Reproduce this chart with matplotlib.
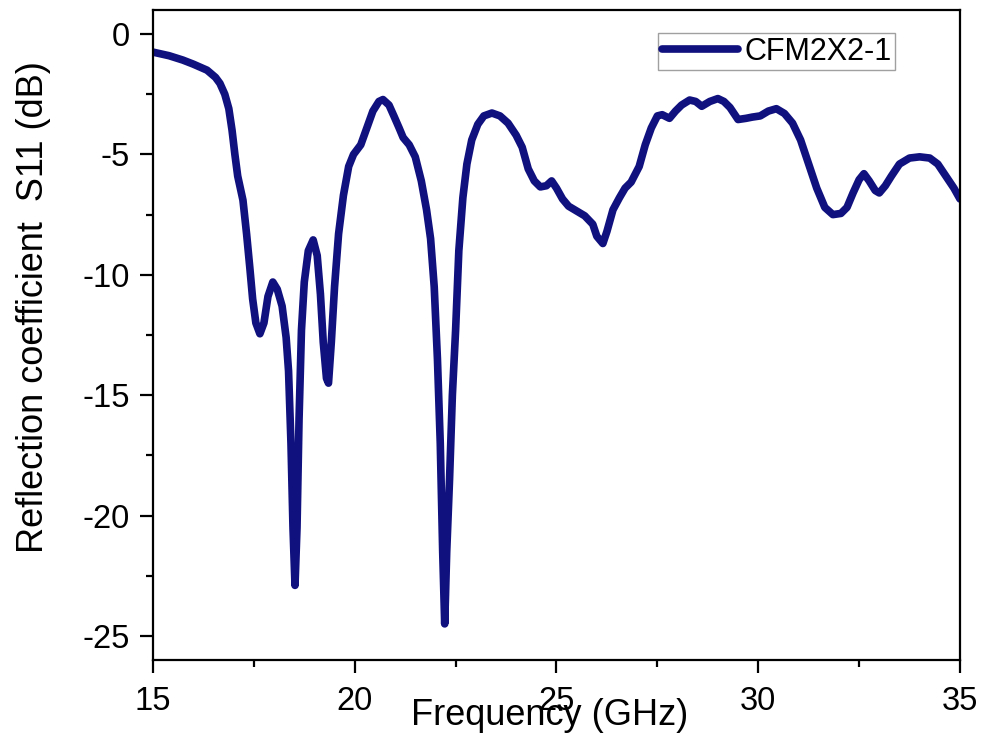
import numpy as np
import matplotlib
matplotlib.use("Agg")
import matplotlib.pyplot as plt
from matplotlib.ticker import MultipleLocator

plt.rcParams['font.family'] = ['Liberation Sans', 'DejaVu Sans']
plt.rcParams['axes.unicode_minus'] = False

# S11 curve
freq = [15.0, 15.4, 15.74, 16.0, 16.34, 16.55, 16.66, 16.78, 16.88, 16.96,
        17.03, 17.1, 17.23, 17.32, 17.4, 17.47, 17.55, 17.65, 17.75, 17.85,
        17.97, 18.08, 18.2, 18.3, 18.36, 18.42, 18.47, 18.52, 18.57, 18.62,
        18.68, 18.75, 18.85, 18.97, 19.07, 19.15, 19.22, 19.3, 19.35, 19.42,
        19.5, 19.6, 19.72, 19.85, 19.97, 20.15, 20.3, 20.45, 20.6, 20.7,
        20.85, 20.97, 21.1, 21.2, 21.35, 21.5, 21.65, 21.78, 21.88, 21.97,
        22.05, 22.12, 22.18, 22.23, 22.28, 22.35, 22.42, 22.5, 22.58, 22.68,
        22.78, 22.9, 23.05, 23.2, 23.4, 23.6, 23.8, 24.0, 24.15, 24.3,
        24.45, 24.6, 24.75, 24.88, 25.0, 25.15, 25.3, 25.5, 25.7, 25.9,
        26.0, 26.15, 26.25, 26.4, 26.56, 26.7, 26.85, 27.05, 27.2, 27.35,
        27.5, 27.62, 27.8, 27.95, 28.1, 28.3, 28.45, 28.6, 28.8, 29.0,
        29.15, 29.3, 29.5, 29.7, 29.85, 30.05, 30.25, 30.45, 30.65, 30.85,
        31.05, 31.25, 31.45, 31.65, 31.85, 32.05, 32.2, 32.35, 32.5, 32.62,
        32.75, 32.9, 33.0, 33.15, 33.3, 33.5, 33.75, 34.0, 34.25, 34.45,
        34.65, 34.85, 35.0]
s11 = [-0.75, -0.9, -1.08, -1.25, -1.5, -1.8, -2.05, -2.5, -3.1, -4.0,
       -5.0, -5.9, -6.9, -8.3, -9.7, -11.0, -12.0, -12.45, -12.0, -10.9,
       -10.3, -10.6, -11.3, -12.6, -14.0, -17.0, -20.5, -22.9, -20.5, -16.0,
       -12.3, -10.3, -9.0, -8.55, -9.2, -10.8, -12.8, -14.3, -14.5, -12.8,
       -10.5, -8.3, -6.7, -5.5, -5.0, -4.6, -3.9, -3.2, -2.8, -2.72,
       -2.95, -3.4, -3.9, -4.3, -4.6, -5.1, -6.1, -7.3, -8.5, -10.5,
       -13.5, -17.0, -21.5, -24.5, -21.5, -18.5, -15.0, -12.3, -9.0, -6.8,
       -5.4, -4.4, -3.75, -3.4, -3.28, -3.4, -3.7, -4.2, -4.7, -5.6,
       -6.1, -6.35, -6.3, -6.1, -6.4, -6.85, -7.15, -7.35, -7.55, -7.9,
       -8.4, -8.7, -8.2, -7.3, -6.8, -6.4, -6.15, -5.5, -4.6, -3.9,
       -3.4, -3.35, -3.5, -3.2, -2.95, -2.74, -2.8, -3.0, -2.8, -2.68,
       -2.8, -3.05, -3.55, -3.5, -3.45, -3.4, -3.2, -3.1, -3.3, -3.7,
       -4.4, -5.4, -6.4, -7.2, -7.5, -7.45, -7.2, -6.6, -6.05, -5.8,
       -6.1, -6.5, -6.6, -6.3, -5.9, -5.4, -5.15, -5.1, -5.15, -5.4,
       -5.9, -6.4, -6.85]

fig = plt.figure(figsize=(9.85, 7.45), dpi=100)
ax = fig.add_axes([0.1553, 0.1141, 0.8193, 0.8725])

ax.plot(freq, s11, color='#10107f', lw=5.5, solid_capstyle='round',
        solid_joinstyle='round', label='CFM2X2-1')

ax.set_xlim(15, 35)
ax.set_ylim(-26, 1)
ax.xaxis.set_major_locator(MultipleLocator(5))
ax.xaxis.set_minor_locator(MultipleLocator(2.5))
ax.yaxis.set_major_locator(MultipleLocator(5))
ax.yaxis.set_minor_locator(MultipleLocator(2.5))
ax.tick_params(which='major', direction='out', length=9.5, width=1.6,
               labelsize=23.5, pad=7, top=False, right=False)
ax.tick_params(axis='x', which='major', pad=9.5)
ax.tick_params(which='minor', direction='out', length=5, width=1.6,
               top=False, right=False)
for sp in ax.spines.values():
    sp.set_linewidth(1.6)

ax.set_xlabel('Frequency (GHz)', fontsize=26)
ax.set_ylabel('Reflection coefficient  S11 (dB)', fontsize=26)
ax.xaxis.set_label_coords(0.492, -0.058)
ax.yaxis.set_label_coords(-0.126, 0.543)

leg = ax.legend(loc='upper right', bbox_to_anchor=(0.9195, 0.9646), fontsize=22,
                frameon=True, fancybox=False, handlelength=2.5,
                borderpad=0.12, handletextpad=0.2, borderaxespad=0)
leg.get_frame().set_edgecolor('#888888')
leg.get_frame().set_linewidth(1.0)

plt.savefig('out.png', dpi=100)
